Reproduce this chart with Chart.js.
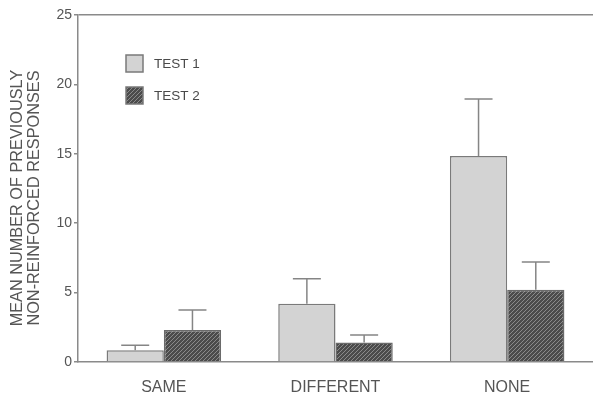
<!DOCTYPE html>
<html>
<head>
<meta charset="utf-8">
<script src="https://cdn.jsdelivr.net/npm/chart.js@4"></script>
<style>
  body { margin: 0; background: #fff; }
  #wrap { width: 593px; height: 396px; }
</style>
</head>
<body>
<div id="wrap"><canvas id="myChart"></canvas></div>
<script>
// данные
var categories = ["SAME", "DIFFERENT", "NONE"];
var test1 = [0.85, 4.2, 14.85];
var test2 = [2.3, 1.4, 5.2];
var test1Err = [0.35, 1.8, 4.1];
var test2Err = [1.45, 0.55, 2.0];
var yTicks = [0, 5, 10, 15, 20, 25];
var yTitle = ["MEAN NUMBER OF PREVIOUSLY", "NON-REINFORCED RESPONSES"];

var FONT = "'Liberation Sans', Arial, sans-serif";

// штриховка для TEST 2
function hatch() {
  var c = document.createElement("canvas");
  c.width = 4;
  c.height = 4;
  var g = c.getContext("2d");
  g.fillStyle = "#4b4b4b";
  g.fillRect(0, 0, 4, 4);
  g.strokeStyle = "#8a8a8a";
  g.lineWidth = 1;
  g.beginPath();
  g.moveTo(0, 4);
  g.lineTo(4, 0);
  g.moveTo(-1, 1);
  g.lineTo(1, -1);
  g.moveTo(3, 5);
  g.lineTo(5, 3);
  g.stroke();
  return g.createPattern(c, "repeat");
}

var ctx = document.getElementById("myChart").getContext("2d");
var hatchFill = hatch();

// усы погрешности
var errorBars = {
  id: "errorBars",
  afterDatasetsDraw: function (chart) {
    var y = chart.scales.y;
    var c = chart.ctx;
    var errs = [test1Err, test2Err];
    c.save();
    c.strokeStyle = "#858585";
    c.lineWidth = 1.5;
    chart.data.datasets.forEach(function (ds, i) {
      var meta = chart.getDatasetMeta(i);
      meta.data.forEach(function (bar, j) {
        var top = y.getPixelForValue(ds.data[j] + errs[i][j]);
        c.beginPath();
        c.moveTo(bar.x, bar.y);
        c.lineTo(bar.x, top);
        c.moveTo(bar.x - 14, top);
        c.lineTo(bar.x + 14, top);
        c.stroke();
      });
    });
    c.restore();
  },
};

// легенда внутри графика + подпись оси Y
var boxLegend = {
  id: "boxLegend",
  afterDraw: function (chart) {
    var c = chart.ctx;
    c.save();
    chart.data.datasets.forEach(function (ds, i) {
      var top = 55 + i * 32;
      c.fillStyle = ds.backgroundColor;
      c.fillRect(126, top, 17, 17);
      c.strokeStyle = "#7a7a7a";
      c.lineWidth = 1.5;
      c.strokeRect(126, top, 17, 17);
      c.fillStyle = "#4a4a4a";
      c.font = "13.5px " + FONT;
      c.textBaseline = "middle";
      c.fillText(ds.label, 154, top + 9);
    });

    c.translate(0, 198);
    c.rotate(-Math.PI / 2);
    c.fillStyle = "#555";
    c.font = "16.3px " + FONT;
    c.textAlign = "center";
    c.textBaseline = "middle";
    c.fillText(yTitle[0], 0, 18);
    c.fillText(yTitle[1], 0, 35);
    c.restore();
  },
};

var myChart = new Chart(ctx, {
  type: "bar",
  data: {
    labels: categories,
    datasets: [
      {
        label: "TEST 1",
        data: test1,
        backgroundColor: "#d3d3d3",
        borderColor: "#7a7a7a",
        borderWidth: 1.5,
        categoryPercentage: 0.667,
        barPercentage: 1.0,
      },
      {
        label: "TEST 2",
        data: test2,
        backgroundColor: hatchFill,
        borderColor: "#6a6a6a",
        borderWidth: 1.5,
        categoryPercentage: 0.667,
        barPercentage: 1.0,
      },
    ],
  },
  options: {
    responsive: true,
    maintainAspectRatio: false,
    animation: false,
    layout: { padding: { top: 15, right: 0, left: 0, bottom: 0 } },
    plugins: {
      legend: { display: false },
      tooltip: { enabled: false },
    },
    scales: {
      x: {
        grid: { display: false },
        border: { color: "#8a8a8a", width: 1.5 },
        ticks: {
          color: "#555",
          padding: 8,
          font: { family: FONT, size: 16 },
        },
        afterFit: function (s) { s.height = 34; },
      },
      y: {
        min: 0,
        max: 25,
        afterBuildTicks: function (s) {
          s.ticks = yTicks.map(function (v) { return { value: v }; });
        },
        grid: {
          color: function (c) { return c.tick && c.tick.value === 25 ? "#8a8a8a" : "transparent"; },
          lineWidth: 1.5,
          tickColor: "#8a8a8a",
          tickLength: 4,
        },
        border: { color: "#8a8a8a", width: 1.5 },
        ticks: {
          color: "#555",
          padding: 2,
          font: { family: FONT, size: 14 },
        },
        afterFit: function (s) { s.width = 78; },
      },
    },
  },
  plugins: [errorBars, boxLegend],
});
</script>
</body>
</html>
